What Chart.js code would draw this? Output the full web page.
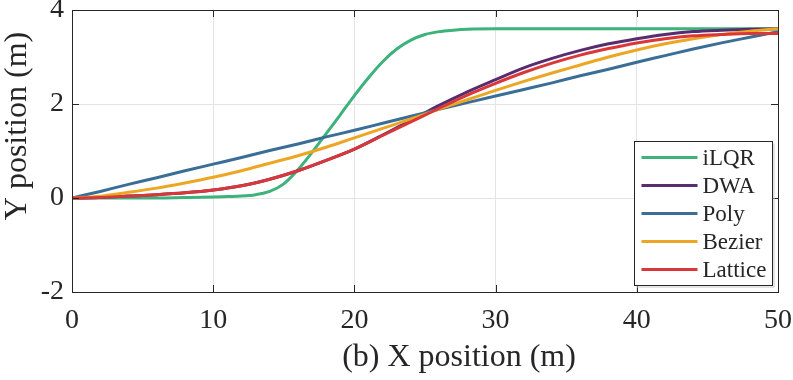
<!DOCTYPE html>
<html>
<head>
<meta charset="utf-8">
<script src="https://cdn.jsdelivr.net/npm/chart.js@4.4.1/dist/chart.umd.min.js"></script>
<style>
  html, body { margin: 0; padding: 0; background: #fff; }
  #wrap { width: 793px; height: 380px; }
</style>
</head>
<body>
<div id="wrap"><canvas id="pathChart"></canvas></div>
<script>
// tick labels
const xTicks = [0, 10, 20, 30, 40, 50];
const yTicks = [-2, 0, 2, 4];

// series labels
const seriesNames = ["iLQR", "DWA", "Poly", "Bezier", "Lattice"];

// iLQR has its own x samples (steep part needs more points)
const ilqrX = [0, 5, 8, 10, 11, 12, 13, 14, 15, 16, 17, 18, 19, 20, 21, 22, 23, 24, 25, 26, 27, 28, 30, 35, 40, 45, 50];
const ilqrY = [0, 0, 0.01, 0.02, 0.03, 0.04, 0.07, 0.14, 0.3, 0.6, 0.97, 1.37, 1.77, 2.18, 2.56, 2.9, 3.17, 3.36, 3.48, 3.54, 3.57, 3.59, 3.6, 3.6, 3.6, 3.6, 3.6];

// the other planners share one x grid
const gridX = [0, 2, 4, 6, 8, 10, 12, 14, 16, 18, 20, 22, 24, 26, 28, 30, 32, 34, 36, 38, 40, 42, 44, 46, 48, 50];
const dwaY = [0, 0.01, 0.04, 0.07, 0.11, 0.17, 0.26, 0.4, 0.58, 0.8, 1.04, 1.34, 1.65, 1.97, 2.26, 2.52, 2.77, 2.97, 3.14, 3.28, 3.39, 3.48, 3.54, 3.57, 3.59, 3.6];
const polyY = [0, 0.14, 0.29, 0.43, 0.58, 0.72, 0.86, 1.01, 1.15, 1.3, 1.44, 1.59, 1.74, 1.89, 2.03, 2.17, 2.31, 2.45, 2.6, 2.74, 2.89, 3.03, 3.17, 3.3, 3.42, 3.54];
const bezierY = [0, 0.04, 0.12, 0.21, 0.32, 0.44, 0.58, 0.74, 0.9, 1.08, 1.28, 1.48, 1.68, 1.89, 2.09, 2.29, 2.48, 2.66, 2.83, 3.0, 3.15, 3.28, 3.39, 3.48, 3.55, 3.6];
const latticeY = [0, 0.01, 0.04, 0.07, 0.11, 0.17, 0.26, 0.4, 0.58, 0.8, 1.04, 1.33, 1.62, 1.91, 2.19, 2.44, 2.67, 2.87, 3.04, 3.18, 3.3, 3.39, 3.45, 3.48, 3.5, 3.5];

const colors = ["#3db27a", "#582c6e", "#3a6e96", "#eda624", "#d8383a"];

const ink = "#262626";
const serif = "'Liberation Serif', 'Times New Roman', serif";

function pts(xs, ys) {
  return xs.map((x, i) => ({ x: x, y: ys[i] }));
}

const seriesData = [
  pts(ilqrX, ilqrY),
  pts(gridX, dwaY),
  pts(gridX, polyY),
  pts(gridX, bezierY),
  pts(gridX, latticeY),
];

// matlab style: box, inward ticks, axis labels and legend inside the axes
const matlabAxes = {
  id: "matlabAxes",
  afterDatasetsDraw(chart) {
    const { ctx, chartArea: a, scales } = chart;
    const len = 7;
    ctx.save();
    ctx.strokeStyle = ink;
    ctx.lineWidth = 1;
    ctx.beginPath();
    xTicks.forEach((v) => {
      const px = Math.round(scales.x.getPixelForValue(v)) + 0.5;
      ctx.moveTo(px, a.bottom);
      ctx.lineTo(px, a.bottom - len);
      ctx.moveTo(px, a.top);
      ctx.lineTo(px, a.top + len);
    });
    yTicks.forEach((v) => {
      const py = Math.round(scales.y.getPixelForValue(v)) + 0.5;
      ctx.moveTo(a.left, py);
      ctx.lineTo(a.left + len, py);
      ctx.moveTo(a.right, py);
      ctx.lineTo(a.right - len, py);
    });
    ctx.stroke();
    ctx.strokeRect(Math.round(a.left) + 0.5, Math.round(a.top) + 0.5,
      Math.round(a.right - a.left), Math.round(a.bottom - a.top));
    ctx.restore();
  },
  afterDraw(chart) {
    const { ctx, chartArea: a } = chart;
    ctx.save();
    ctx.fillStyle = ink;
    ctx.font = "32px " + serif;
    ctx.textAlign = "center";
    ctx.textBaseline = "middle";
    ctx.fillText("(b) X position (m)", (a.left + a.right) / 2 + 34, 358);

    ctx.save();
    ctx.translate(18, 126);
    ctx.rotate(-Math.PI / 2);
    ctx.fillText("Y position (m)", 0, 0);
    ctx.restore();

    // legend box
    const bw = 138, bh = 144;
    const bx = Math.round(a.right - 6 - bw) + 0.5;
    const by = Math.round(a.bottom - 7 - bh) + 0.5;
    ctx.fillStyle = "#ffffff";
    ctx.fillRect(bx, by, bw, bh);
    ctx.strokeStyle = "#c8c8c8";
    ctx.beginPath();
    ctx.moveTo(bx + bw + 1.5, by + 2);
    ctx.lineTo(bx + bw + 1.5, by + bh + 1.5);
    ctx.lineTo(bx + 2, by + bh + 1.5);
    ctx.stroke();
    ctx.strokeStyle = ink;
    ctx.strokeRect(bx, by, bw, bh);

    ctx.font = "23px " + serif;
    ctx.textAlign = "left";
    chart.data.datasets.forEach((ds, i) => {
      const cy = by + 16 + i * 28;
      ctx.strokeStyle = ds.borderColor;
      ctx.lineWidth = 3;
      ctx.beginPath();
      ctx.moveTo(bx + 7, cy);
      ctx.lineTo(bx + 63, cy);
      ctx.stroke();
      ctx.fillStyle = ink;
      ctx.fillText(ds.label, bx + 68, cy + 1);
    });
    ctx.restore();
  },
};

const ctx = document.getElementById("pathChart").getContext("2d");
const pathChart = new Chart(ctx, {
  type: "line",
  data: {
    datasets: seriesNames.map((name, i) => ({
      label: name,
      data: seriesData[i],
      borderColor: colors[i],
      backgroundColor: colors[i],
      borderWidth: 3,
      pointRadius: 0,
      cubicInterpolationMode: "monotone",
      order: seriesNames.length - i,
    })),
  },
  options: {
    responsive: true,
    maintainAspectRatio: false,
    animation: false,
    layout: { padding: { top: 10, right: 15, left: 0, bottom: 0 } },
    plugins: {
      legend: { display: false },
      tooltip: { enabled: false },
    },
    scales: {
      x: {
        type: "linear",
        min: 0,
        max: 50,
        afterBuildTicks: (s) => { s.ticks = xTicks.map((v) => ({ value: v })); },
        afterFit: (s) => { s.height = 88; s.paddingLeft = 0; s.paddingRight = 0; },
        ticks: { color: ink, padding: 12, font: { family: serif, size: 28 } },
        grid: { color: "#e4e4e4", drawTicks: false },
        border: { display: false },
      },
      y: {
        type: "linear",
        min: -2,
        max: 4,
        afterBuildTicks: (s) => { s.ticks = yTicks.map((v) => ({ value: v })); },
        afterFit: (s) => { s.width = 72; s.paddingTop = 0; s.paddingBottom = 0; },
        ticks: { color: ink, padding: 8, font: { family: serif, size: 28 } },
        grid: { color: "#e4e4e4", drawTicks: false },
        border: { display: false },
      },
    },
  },
  plugins: [matlabAxes],
});
</script>
</body>
</html>
